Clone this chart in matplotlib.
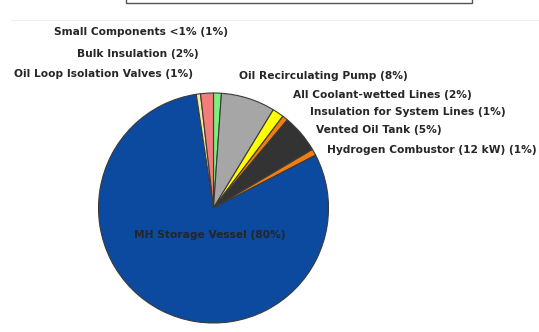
import matplotlib
matplotlib.use("Agg")
import matplotlib.pyplot as plt
from matplotlib.patches import Rectangle

# Component cost shares (percent), listed clockwise starting from 12 o'clock
components = [
    "Oil Loop Isolation Valves",
    "Oil Recirculating Pump",
    "All Coolant-wetted Lines",
    "Insulation for System Lines",
    "Vented Oil Tank",
    "Hydrogen Combustor (12 kW)",
    "MH Storage Vessel",
    "Small Components <1%",
    "Bulk Insulation",
]
shares = [1.1, 7.6, 1.6, 0.8, 5.4, 0.9, 80.2, 0.6, 1.8]
colors = ["#7CF07C", "#A6A6A6", "#FFFF00", "#F07E10", "#333333",
          "#F07E10", "#0B4A9E", "#F2EBA0", "#F47C7C"]

# Label anchor points (pixels from top-left) and alignment
label_pos = {
    "Small Components <1%": (141, 32, "center"),
    "Bulk Insulation": (138, 54, "center"),
    "Oil Loop Isolation Valves": (104, 74, "center"),
    "Oil Recirculating Pump": (239, 76, "left"),
    "All Coolant-wetted Lines": (293, 95, "left"),
    "Insulation for System Lines": (310, 112, "left"),
    "Vented Oil Tank": (316, 130, "left"),
    "Hydrogen Combustor (12 kW)": (327, 150, "left"),
    "MH Storage Vessel": (210, 235, "center"),
}

W, H = 539, 332
fig = plt.figure(figsize=(W / 100, H / 100), dpi=100)
ax = fig.add_axes([0, 0, 1, 1])

cx, cy, r = 213.5, H - 208, 115
ax.pie(shares, colors=colors, startangle=90, counterclock=False,
       center=(cx, cy), radius=r, frame=True,
       wedgeprops=dict(edgecolor="#3a3a3a", linewidth=0.8))
ax.set_xlim(0, W)
ax.set_ylim(0, H)
ax.set_aspect("equal")
ax.axis("off")

total = sum(shares)
for name, val in zip(components, shares):
    x, y, ha = label_pos[name]
    pct = int(val / total * 100 + 0.5)
    ax.text(x, H - y, f"{name} ({pct}%)", ha=ha, va="center",
            fontsize=7.7, fontweight="bold", color="#262626",
            family="DejaVu Sans")

# Legend frame peeking in at the top and a faint rule below it
ax.add_patch(Rectangle((126, H - 3), 346, 20, facecolor="white",
                       edgecolor="#555555", linewidth=1.0, clip_on=False))
ax.plot([11, W], [H - 20, H - 20], color="#eeeeee", linewidth=0.8)

fig.savefig("out.png", dpi=100)
